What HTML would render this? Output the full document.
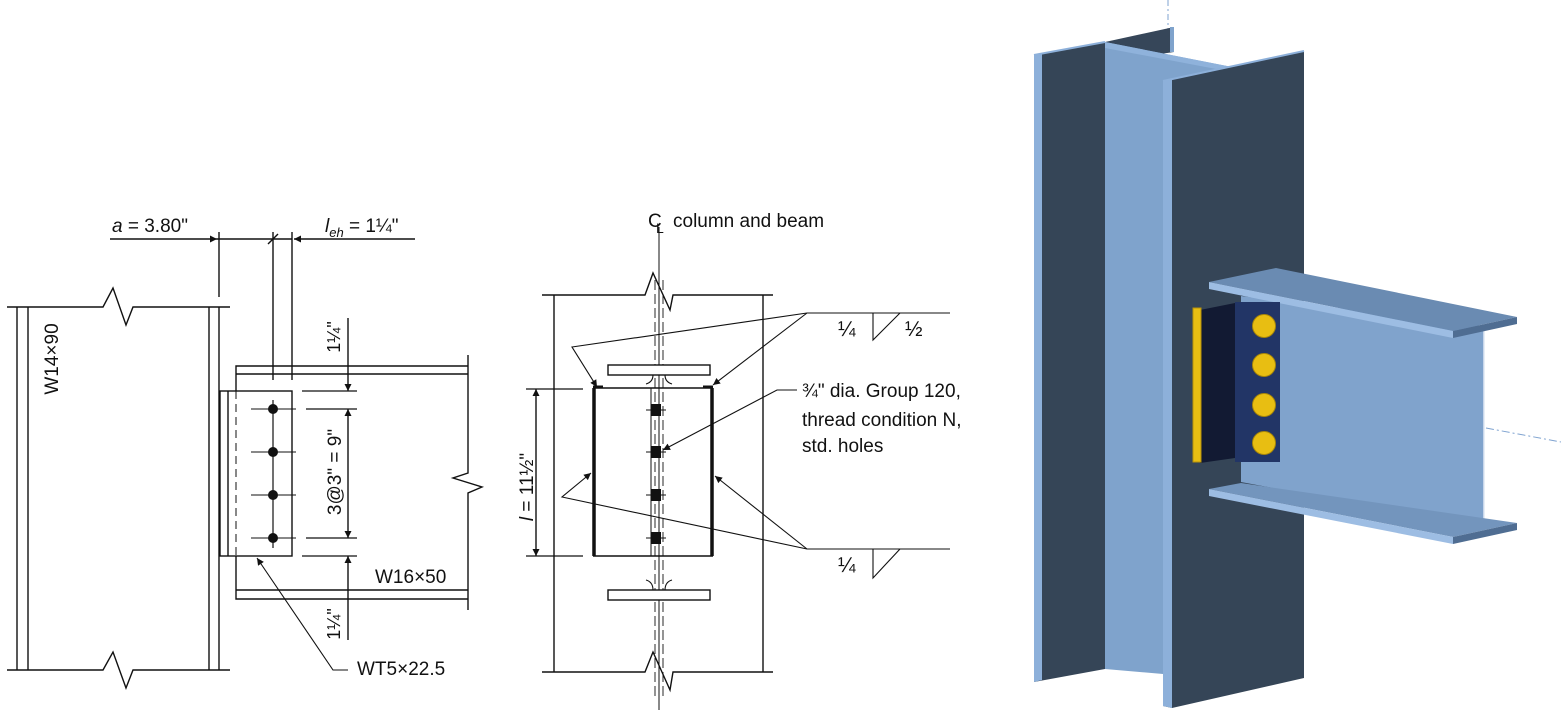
<!DOCTYPE html>
<html><head><meta charset="utf-8"><style>
html,body{margin:0;padding:0;background:#fff;width:1561px;height:717px;overflow:hidden}
svg{display:block}
text{font-family:"Liberation Sans",Arial,sans-serif;fill:#111}
</style></head><body>
<svg width="1561" height="717" viewBox="0 0 1561 717" xmlns="http://www.w3.org/2000/svg">
<defs>
<marker id="ar" viewBox="0 0 10 10" refX="10" refY="5" markerWidth="12" markerHeight="7" orient="auto-start-reverse" markerUnits="userSpaceOnUse"><path d="M0,0 L10,5 L0,10 z" fill="#111"/></marker>
</defs>
<g stroke="#111" stroke-width="1.4" fill="none">
<!-- LEFT DRAWING -->
<line x1="17" y1="307" x2="17" y2="670"/><line x1="28" y1="307" x2="28" y2="670"/>
<line x1="209" y1="307" x2="209" y2="670"/><line x1="219" y1="307" x2="219" y2="670"/>
<polyline points="7,307 103,307 113,288 126,325 133,307 230,307"/>
<polyline points="7,670 103,670 113,652 126,688 133,670 230,670"/>
<line x1="219" y1="232" x2="219" y2="297"/>
<line x1="110" y1="239" x2="217" y2="239" marker-end="url(#ar)"/>
<line x1="217" y1="239" x2="292" y2="239"/>
<line x1="415" y1="239" x2="294" y2="239" marker-end="url(#ar)"/>
<line x1="268" y1="244" x2="278" y2="234"/>
<line x1="273" y1="232" x2="273" y2="380"/><line x1="292" y1="232" x2="292" y2="380"/>
<!-- beam -->
<polyline points="468,366 236,366 236,599 468,599"/>
<line x1="236" y1="374" x2="468" y2="374"/><line x1="236" y1="590" x2="468" y2="590"/>
<polyline points="468,355 468,473 453,478 482,487 468,493 468,610"/>
<!-- WT -->
<rect x="220" y="391" width="72" height="165" fill="#fff"/>
<line x1="228" y1="391" x2="228" y2="556"/>
<line x1="236" y1="391" x2="236" y2="556" stroke-dasharray="8,5" stroke-width="1"/>
<line x1="273" y1="400" x2="273" y2="548" stroke-width="1.2"/>
<g stroke-width="1.1"><line x1="251" y1="409" x2="296" y2="409"/><line x1="251" y1="452" x2="296" y2="452"/><line x1="251" y1="495" x2="296" y2="495"/><line x1="251" y1="538" x2="296" y2="538"/></g>
<g fill="#111" stroke="none"><circle cx="273" cy="409" r="5"/><circle cx="273" cy="452" r="5"/><circle cx="273" cy="495" r="5"/><circle cx="273" cy="538" r="5"/></g>
<!-- right dims -->
<line x1="348" y1="318" x2="348" y2="391" marker-end="url(#ar)"/>
<line x1="348" y1="470" x2="348" y2="409" marker-end="url(#ar)"/>
<line x1="348" y1="470" x2="348" y2="538" marker-end="url(#ar)"/>
<line x1="348" y1="640" x2="348" y2="556" marker-end="url(#ar)"/>
<g stroke-width="1.2"><line x1="302" y1="391" x2="357" y2="391"/><line x1="306" y1="409" x2="357" y2="409"/><line x1="306" y1="538" x2="357" y2="538"/><line x1="302" y1="556" x2="357" y2="556"/></g>
<polyline points="348,670 333,670 257,558" marker-end="url(#ar)" stroke-width="1.1"/>

<!-- MIDDLE DRAWING -->
<line x1="659" y1="227" x2="659" y2="710" stroke-width="1"/>
<line x1="655" y1="280" x2="655" y2="700" stroke-dasharray="10,4" stroke-width="0.9"/>
<line x1="663" y1="280" x2="663" y2="700" stroke-dasharray="10,4" stroke-width="0.9"/>
<line x1="554" y1="295" x2="554" y2="672"/><line x1="763" y1="295" x2="763" y2="672"/>
<polyline points="542,295 645,295 653,273 670,310 673,295 773,295"/>
<polyline points="542,672 645,672 653,652 670,690 673,672 773,672"/>
<rect x="608" y="365" width="102" height="10" fill="#fff"/>
<rect x="608" y="590" width="102" height="10" fill="#fff"/>
<path d="M653,375 Q653,382 646,384 M665,375 Q665,382 672,384 M653,590 Q653,582 646,580 M665,590 Q665,582 672,580" stroke-width="1.1"/>
<line x1="593" y1="388" x2="713" y2="388"/><line x1="593" y1="556" x2="713" y2="556"/>
<line x1="594" y1="388" x2="594" y2="556" stroke-width="3.5"/>
<line x1="712" y1="388" x2="712" y2="556" stroke-width="3.5"/>
<line x1="593" y1="387" x2="603" y2="387" stroke-width="3"/><line x1="703" y1="387" x2="713" y2="387" stroke-width="3"/>
<line x1="651" y1="388" x2="651" y2="556" stroke-width="1"/>
<g fill="#111" stroke="none"><rect x="651" y="404" width="10" height="12"/><rect x="651" y="446" width="10" height="12"/><rect x="651" y="489" width="10" height="12"/><rect x="651" y="532" width="10" height="12"/></g>
<g stroke-width="1"><line x1="646" y1="410" x2="666" y2="410"/><line x1="646" y1="452" x2="666" y2="452"/><line x1="646" y1="495" x2="666" y2="495"/><line x1="646" y1="538" x2="666" y2="538"/></g>
<line x1="526" y1="389" x2="583" y2="389" stroke-width="1.2"/><line x1="526" y1="556" x2="583" y2="556" stroke-width="1.2"/>
<line x1="536" y1="470" x2="536" y2="389" marker-end="url(#ar)"/>
<line x1="536" y1="470" x2="536" y2="556" marker-end="url(#ar)"/>
<!-- weld leaders -->
<g stroke-width="1.1">
<line x1="807" y1="313" x2="950" y2="313"/>
<polyline points="807,313 572,347 597,387" marker-end="url(#ar)"/>
<line x1="807" y1="313" x2="713" y2="385" marker-end="url(#ar)"/>
<polyline points="873,313 873,340 900,313"/>
<line x1="807" y1="549" x2="950" y2="549"/>
<polyline points="807,549 562,497 591,473" marker-end="url(#ar)"/>
<line x1="807" y1="549" x2="715" y2="476" marker-end="url(#ar)"/>
<polyline points="873,549 873,578 900,549"/>
<polyline points="797,390 777,390 663,450" marker-end="url(#ar)"/>
</g>
</g>
<!-- texts left -->
<text x="112" y="232" font-size="19"><tspan font-style="italic">a</tspan> = 3.80"</text>
<text x="325" y="232" font-size="19"><tspan font-style="italic">l</tspan><tspan font-style="italic" font-size="13" dy="5">eh</tspan><tspan dy="-5"> = 1¼"</tspan></text>
<text transform="translate(58,359) rotate(-90)" text-anchor="middle" font-size="19">W14×90</text>
<text transform="translate(340,337) rotate(-90)" text-anchor="middle" font-size="18">1¼"</text>
<text transform="translate(341,472) rotate(-90)" text-anchor="middle" font-size="19">3@3" = 9"</text>
<text transform="translate(340,624) rotate(-90)" text-anchor="middle" font-size="18">1¼"</text>
<text x="375" y="583" font-size="19">W16×50</text>
<text x="357" y="675" font-size="19">WT5×22.5</text>
<!-- texts middle -->
<text x="648" y="227" font-size="19">C</text>
<text x="656" y="233" font-size="14">L</text>
<text x="673" y="227" font-size="19">column and beam</text>
<text transform="translate(533,487) rotate(-90)" text-anchor="middle" font-size="19"><tspan font-style="italic">l</tspan> = 11½"</text>
<text x="838" y="336" font-size="21">¼</text><text x="905" y="336" font-size="21">½</text>
<text x="838" y="572" font-size="21">¼</text>
<text x="802" y="397" font-size="19">¾" dia. Group 120,</text>
<text x="802" y="426" font-size="19">thread condition N,</text>
<text x="802" y="452" font-size="19">std. holes</text>

<!-- 3D VIEW -->
<line x1="1168" y1="0" x2="1168" y2="32" stroke="#7fa3d0" stroke-dasharray="6,3,2,3" stroke-width="1"/>
<polygon points="1105,42 1174,27 1174,52 1105,62" fill="#364659"/>
<rect x="1170" y="27" width="4" height="25" fill="#7fa3cc"/>
<polygon points="1034,55 1105,42 1105,669 1034,682" fill="#354557"/>
<polygon points="1034,55 1042,54 1042,680 1034,682" fill="#8db0da"/>
<line x1="1034" y1="55" x2="1105" y2="42" stroke="#8db0da" stroke-width="2"/>
<polygon points="1105,42 1232,67 1232,680 1105,669" fill="#7fa3cc"/>
<polygon points="1105,42 1232,67 1232,72 1105,48" fill="#8fb2db"/>
<polygon points="1163,81 1304,51 1304,678 1172,708 1163,706" fill="#354557"/>
<polygon points="1163,81 1172,79 1172,708 1163,706" fill="#8db0da"/>
<line x1="1163" y1="81" x2="1304" y2="51" stroke="#8db0da" stroke-width="2"/>
<!-- beam web -->
<polygon points="1241,296 1484,326 1484,528 1241,482" fill="#80a3cc"/>
<line x1="1484" y1="326" x2="1484" y2="528" stroke="#dfe8f3" stroke-width="1.5"/>
<line x1="1486" y1="428" x2="1561" y2="442" stroke="#7fa3d0" stroke-dasharray="8,3,2,3" stroke-width="1"/>
<polygon points="1209,282 1276,268 1517,317 1453,331" fill="#6a8bb2"/>
<polygon points="1209,282 1453,331 1453,338 1209,289" fill="#9dbde3"/>
<polygon points="1453,331 1517,317 1517,324 1453,338" fill="#4f6d92"/>
<polygon points="1209,489 1241,483 1517,523 1453,537" fill="#7395bd"/>
<polygon points="1209,489 1453,537 1453,544 1209,496" fill="#9dbde3"/>
<polygon points="1453,537 1517,523 1517,530 1453,544" fill="#4f6d92"/>
<!-- WT -->
<polygon points="1200,310 1235,303 1235,458 1200,463" fill="#121a33"/>
<rect x="1235" y="302" width="45" height="160" fill="#223566"/>
<rect x="1193" y="308" width="8" height="154" fill="#e8be12" stroke="#b8930a" stroke-width="1"/>
<g fill="#e8be12" stroke="#a88608" stroke-width="1">
<circle cx="1264" cy="326" r="11.5"/><circle cx="1264" cy="365" r="11.5"/><circle cx="1264" cy="405" r="11.5"/><circle cx="1264" cy="443" r="11.5"/>
</g>
</svg>
</body></html>
